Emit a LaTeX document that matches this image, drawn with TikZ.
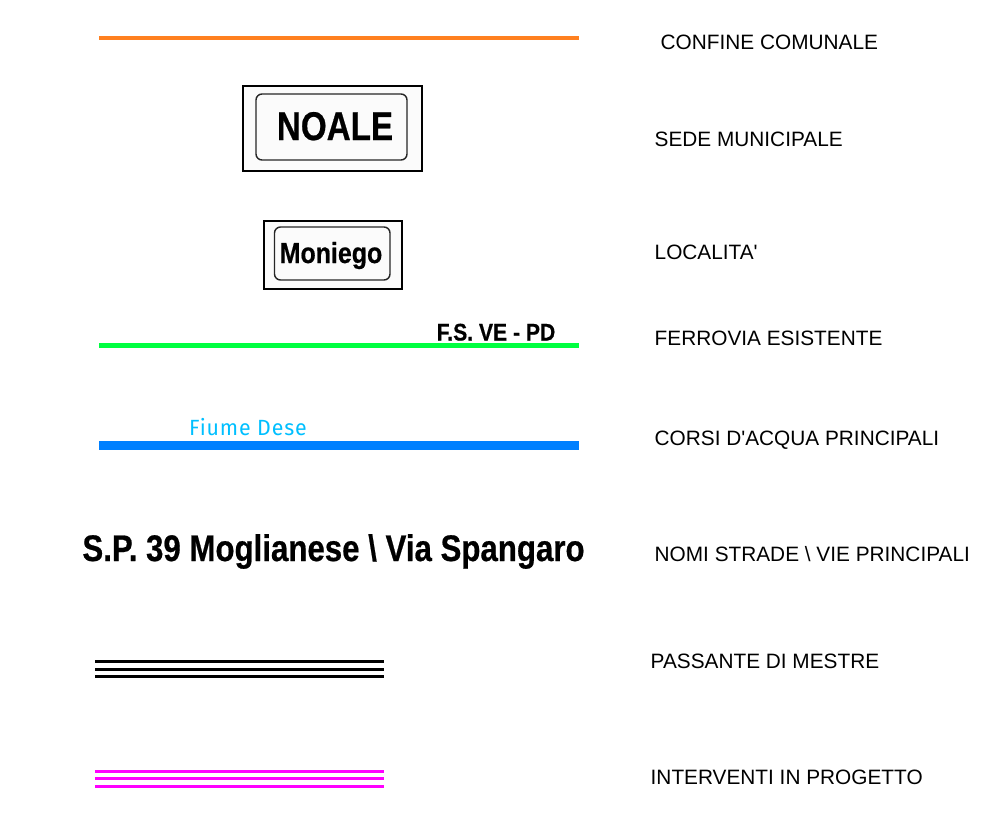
\documentclass[tikz,border=0pt]{standalone}
\usepackage{fontspec}
\setmainfont{Liberation Sans}
\newfontfamily\plainsans{Liberation Sans}
\newfontfamily\heavysans[FakeBold=0.6]{Liberation Sans Bold}
\newfontfamily\dinfont[LetterSpace=4]{Fira Sans}
\definecolor{cOrange}{RGB}{255,128,32}
\definecolor{cGreen}{RGB}{0,255,64}
\definecolor{cBlue}{RGB}{0,128,255}
\definecolor{cCyan}{RGB}{0,191,255}
\definecolor{cMag}{RGB}{255,0,255}
\definecolor{cPaper}{RGB}{251,251,251}
\tikzset{
  legendtext/.style={anchor=base west,inner sep=0pt,font=\plainsans\fontsize{20.8}{24}\selectfont,text=black},
  boldtext/.style={anchor=base,inner sep=0pt,font=\heavysans\fontsize{#1}{#1}\selectfont},
  signframe/.style={draw=black,line width=2pt,fill=cPaper},
  signinner/.style={draw=black!85,line width=1.4pt,rounded corners=6pt},
  sample/.style={line width=#1}
}
\begin{document}
\begin{tikzpicture}[x=1pt,y=-1pt]
\useasboundingbox (0,0) rectangle (994,827);
% line samples
\draw[sample=4pt,cOrange] (99,37.5) -- (579,37.5);
\draw[sample=4.5pt,cGreen] (99,345.5) -- (579,345.5);
\draw[sample=9pt,cBlue] (99,445.5) -- (579,445.5);
\foreach \yy in {661,669,676.5}{\draw[sample=3pt,black] (95,\yy) -- (384,\yy);}
\foreach \yy in {771,778.5,786}{\draw[sample=3pt,cMag] (95,\yy) -- (384,\yy);}
% signs
\draw[signframe] (243,86) rectangle (422,171);
\draw[signinner] (256,94) rectangle (407,160);
\node[boldtext=40,xscale=.83] (noale) at (335,140) {NOALE};
\draw[signframe] (264,221) rectangle (402,288.5);
\draw[signinner] (274.5,227) rectangle (390,280);
\node[boldtext=29,xscale=.86] (moniego) at (331,263) {Moniego};
% labels on samples
\node[boldtext=24,xscale=.88] (fs) at (496,340.5) {F.S. VE - PD};
\node[anchor=base west,inner sep=0pt,text=cCyan,font=\dinfont\fontsize{22}{22}\selectfont,xscale=.97] (dese) at (189,435.5) {Fiume Dese};
\node[boldtext=37,xscale=.844] (road) at (333.5,561) {S.P. 39 Moglianese \textbackslash{} Via Spangaro};
% legend
\node[legendtext] (t1) at (660.5,49) {CONFINE COMUNALE};
\node[legendtext] (t2) at (654.5,146.5) {SEDE MUNICIPALE};
\node[legendtext] (t3) at (654.5,259.5) {LOCALITA'};
\node[legendtext] (t4) at (654.5,345.5) {FERROVIA ESISTENTE};
\node[legendtext] (t5) at (654.5,445.5) {CORSI D'ACQUA PRINCIPALI};
\node[legendtext] (t6) at (654.5,561.5) {NOMI STRADE \textbackslash{} VIE PRINCIPALI};
\node[legendtext] (t7) at (650.5,668.5) {PASSANTE DI MESTRE};
\node[legendtext] (t8) at (650.5,784.5) {INTERVENTI IN PROGETTO};
\end{tikzpicture}
\end{document}
